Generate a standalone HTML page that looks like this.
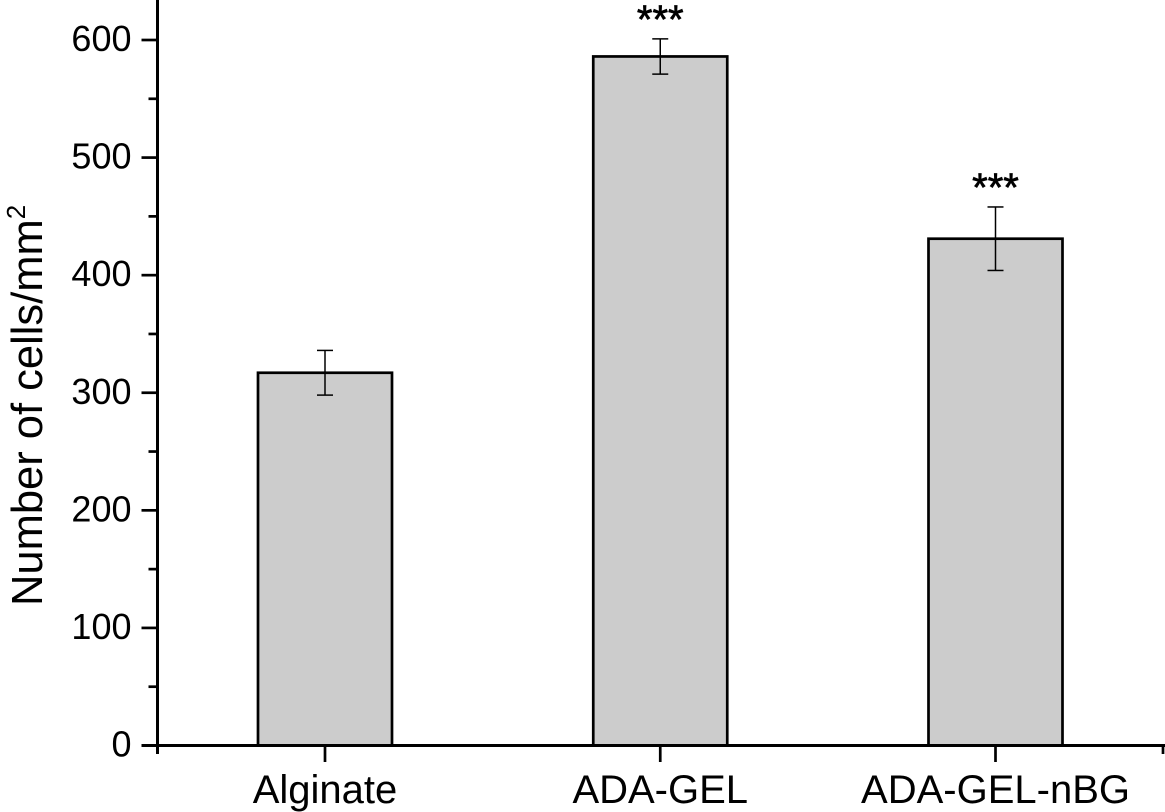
<!DOCTYPE html>
<html lang="en">
<head>
<meta charset="utf-8">
<title>Number of cells per mm² by material</title>
<style>
html,body{margin:0;padding:0;background:#fff;width:1165px;height:812px;overflow:hidden}
svg{display:block;font-family:"Liberation Sans",Arial,sans-serif}
</style>
</head>
<body>
<svg id="chart" width="1165" height="812" viewBox="0 0 1165 812" xmlns="http://www.w3.org/2000/svg">
<text transform="translate(42,606) rotate(-90)" font-size="43.5" fill="#000">Number of cells/mm<tspan dy="-17" font-size="26">2</tspan></text>
</svg>
<script>
const categories = ['Alginate', 'ADA-GEL', 'ADA-GEL-nBG'];
const cellCounts = [317, 586, 431];
const errorUpper = [336, 601, 458];
const errorLower = [298, 571, 404];
const significance = ['', '***', '***'];
const yTickLabels = [0, 100, 200, 300, 400, 500, 600];
const yMinorTicks = [50, 150, 250, 350, 450, 550];

const svg = document.getElementById('chart');
const NS = 'http://www.w3.org/2000/svg';
const axisLeft = 157.5, axisRight = 1164, axisBase = 745.5;
const y = v => axisBase - v * (705.5 / 600);
const x = i => 325 + i * 335.25;
const barWidth = 134;

function line(x1, y1, x2, y2, w) {
  const el = document.createElementNS(NS, 'line');
  el.setAttribute('x1', x1);
  el.setAttribute('y1', y1);
  el.setAttribute('x2', x2);
  el.setAttribute('y2', y2);
  el.setAttribute('stroke', '#000');
  el.setAttribute('stroke-width', w);
  svg.appendChild(el);
  return el;
}
function text(str, tx, ty, size, anchor) {
  const el = document.createElementNS(NS, 'text');
  el.textContent = str;
  el.setAttribute('x', tx);
  el.setAttribute('y', ty);
  el.setAttribute('font-size', size);
  el.setAttribute('text-anchor', anchor);
  el.setAttribute('fill', '#000');
  svg.appendChild(el);
  return el;
}

categories.forEach((name, i) => {
  const bar = document.createElementNS(NS, 'rect');
  bar.setAttribute('x', x(i) - barWidth / 2);
  bar.setAttribute('y', y(cellCounts[i]));
  bar.setAttribute('width', barWidth);
  bar.setAttribute('height', axisBase - y(cellCounts[i]));
  bar.setAttribute('fill', '#cccccc');
  bar.setAttribute('stroke', '#000');
  bar.setAttribute('stroke-width', '2.7');
  
  
  svg.appendChild(bar);

  const stem = line(x(i), y(errorUpper[i]), x(i), y(errorLower[i]), 1.5);
  
  
  const capTop = line(x(i) - 8, y(errorUpper[i]), x(i) + 8, y(errorUpper[i]), 1.5);
  
  
  const capBottom = line(x(i) - 8, y(errorLower[i]), x(i) + 8, y(errorLower[i]), 1.5);
  
  

  if (significance[i]) {
    const mark = text(significance[i], x(i), y(errorUpper[i]) - 6, 40, 'middle');
    mark.setAttribute('stroke', '#000');
    mark.setAttribute('stroke-width', '0.7');
    
    
  }

  const tick = line(x(i), axisBase, x(i), 762, 2.7);
  
  
  const label = text(name, x(i), 803, 40, 'middle');
  
  
});

const yAxis = line(axisLeft, 0, axisLeft, 754, 3);


const xAxis = line(141.5, axisBase, axisRight + 1, axisBase, 3);


const xEnd = line(axisRight - 1, axisBase, axisRight - 1, 754, 2.7);



yTickLabels.forEach(v => {
  const tick = line(141.5, y(v), axisLeft, y(v), 2.7);
  
  
  const label = text(String(v), 131.5, y(v) + 11, 36, 'end');
  
  
});
yMinorTicks.forEach(v => {
  const tick = line(148.5, y(v), axisLeft, y(v), 2.7);
  
  
});
</script>
</body>
</html>
